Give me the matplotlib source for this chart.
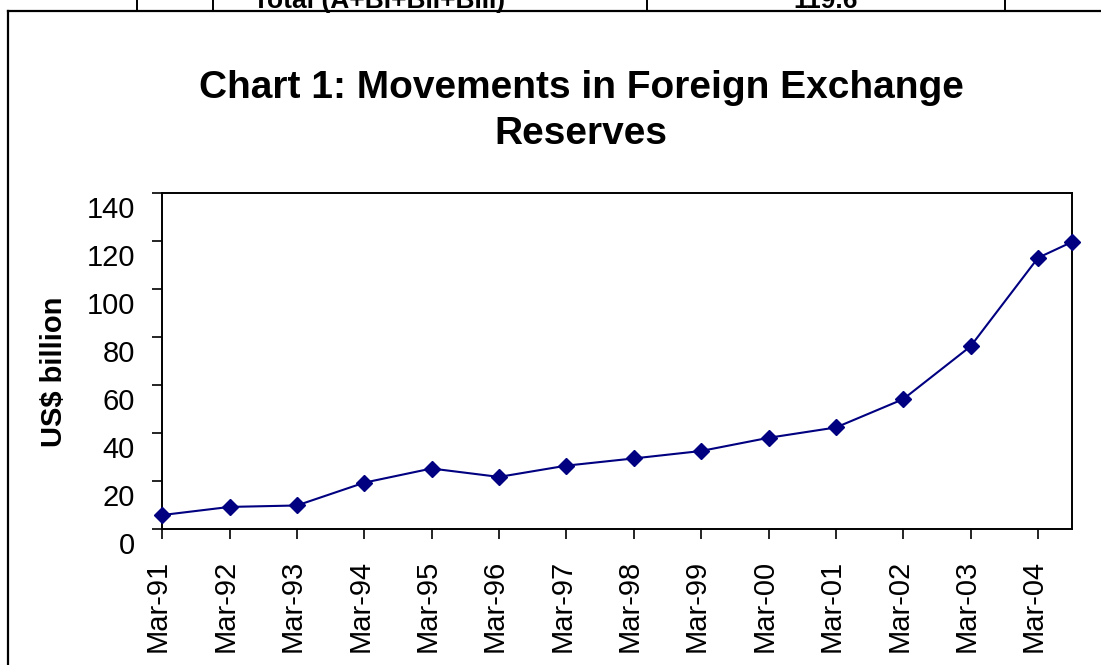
import datetime as dt
import matplotlib
matplotlib.use("Agg")
import matplotlib.pyplot as plt
import matplotlib.dates as mdates
from matplotlib.lines import Line2D
from matplotlib.transforms import ScaledTranslation

# Foreign exchange reserves, US$ billion (end-March each year, last point Sep-04)
dates = [dt.date(y, 3, 1) for y in range(1991, 2005)] + [dt.date(2004, 9, 1)]
reserves = [5.8, 9.2, 9.8, 19.3, 25.2, 21.7, 26.4, 29.4, 32.5, 38.0, 42.3, 54.1, 76.1, 113.0, 119.6]
y_ticks = [0, 20, 40, 60, 80, 100, 120, 140]

plt.rcParams['font.family'] = ['Liberation Sans', 'DejaVu Sans']

W, H = 1101, 665
fig = plt.figure(figsize=(W / 100, H / 100), dpi=100)
fig.patch.set_facecolor('white')

def px(x, y):
    # figure-pixel (from top-left) to figure fraction
    return x / W, 1 - y / H

# outer chart frame and the bit of table above it
fig.add_artist(Line2D([px(8, 0)[0], 1], [px(0, 11)[1]] * 2, color='black', lw=1.6))
fig.add_artist(Line2D([px(8, 0)[0]] * 2, [0, px(0, 11)[1]], color='black', lw=1.6))
for xl in [137, 213, 647, 1005]:
    fig.add_artist(Line2D([xl / W] * 2, [px(0, 11)[1], 1], color='black', lw=1.4))
fig.text(253 / W, 1 - 8 / H, 'Total (A+BI+BII+BIII)', fontsize=19, fontweight='bold',
         ha='left', va='baseline')
fig.text(826 / W, 1 - 8 / H, '119.6', fontsize=19, fontweight='bold',
         ha='center', va='baseline')

# title
fig.text(581 / W, 1 - 111 / H, 'Chart 1: Movements in Foreign Exchange\nReserves',
         fontsize=28, fontweight='bold', ha='center', va='center', linespacing=1.38)

ax = fig.add_axes([162 / W, 1 - 529 / H, (1072 - 162) / W, (529 - 193) / H])
ax.plot(dates, reserves, color='#000080', lw=1.5, marker='D', markersize=8.5,
        markerfacecolor='#000080', markeredgecolor='#000080', clip_on=False, zorder=3)

ax.set_xlim(dates[0], dates[-1])
ax.set_ylim(0, 140)
ax.set_yticks(y_ticks)
ax.xaxis.set_major_locator(mdates.MonthLocator(bymonth=3))
ax.xaxis.set_major_formatter(mdates.DateFormatter('%b-%y'))

for s in ax.spines.values():
    s.set_linewidth(1.4)
ax.tick_params(axis='both', direction='out', length=7.5, width=1.2, labelsize=21)
ax.tick_params(axis='y', pad=12)
ax.tick_params(axis='x', pad=15)
plt.setp(ax.get_xticklabels(), rotation=90)

# Excel puts the value labels a bit below their tick marks
off_y = ScaledTranslation(0, -14 / 100, fig.dpi_scale_trans)
for lab in ax.get_yticklabels():
    lab.set_transform(lab.get_transform() + off_y)
off_x = ScaledTranslation(-4 / 100, 0, fig.dpi_scale_trans)
for lab in ax.get_xticklabels():
    lab.set_transform(lab.get_transform() + off_x)

fig.text(54 / W, 1 - 372 / H, 'US$ billion', fontsize=21, fontweight='bold',
         rotation=90, ha='center', va='center')

fig.savefig('out.png', dpi=100)
